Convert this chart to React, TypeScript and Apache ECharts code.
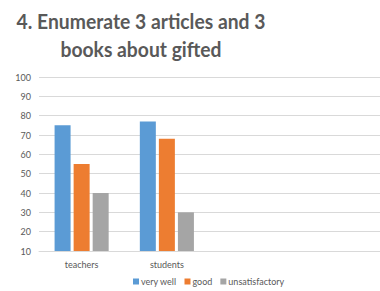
import React, { useEffect, useRef } from "react";
import * as echarts from "echarts";

const categories = ["teachers", "students", "", ""];
const veryWell = [75, 77, null, null];
const good = [55, 68, null, null];
const unsatisfactory = [40, 30, null, null];
const titleLines = ["4. Enumerate 3 articles and 3", "books about gifted"];

const FONT = "Lato, 'Open Sans', sans-serif";

export default function App() {
  const ref = useRef<HTMLDivElement>(null);
  useEffect(() => {
    if (!ref.current) return;
    document.body.style.margin = "0";
    const chart = echarts.init(ref.current, null, { renderer: "svg" });
    chart.setOption({
      animation: false,
      textStyle: { fontFamily: FONT },
      graphic: titleLines.map((t, i) => ({
        type: "text",
        x: 141,
        y: 21 + i * 28,
        scaleX: 0.92,
        style: {
          text: t,
          font: `bold 21px ${FONT}`,
          fill: "#595959",
          textAlign: "center",
          textVerticalAlign: "middle",
        },
      })),
      grid: { left: 39, right: -5, top: 77, bottom: 40 },
      legend: {
        bottom: 0,
        left: 128,
        itemWidth: 6,
        itemHeight: 6,
        itemGap: 8,
        icon: "rect",
        textStyle: { fontSize: 9, color: "#595959", padding: [0, 0, 0, -3] },
        data: ["very well", "good", "unsatisfactory"],
      },
      xAxis: {
        type: "category",
        data: categories,
        axisLine: { lineStyle: { color: "#D9D9D9" } },
        axisTick: { show: false },
        axisLabel: { fontSize: 9, color: "#595959", margin: 9 },
      },
      yAxis: {
        type: "value",
        min: 10,
        max: 100,
        interval: 10,
        axisLine: { show: false },
        axisTick: { show: false },
        axisLabel: { fontSize: 9, color: "#595959", margin: 8 },
        splitLine: { lineStyle: { color: "#D9D9D9" } },
      },
      series: [
        { name: "very well", type: "bar", data: veryWell, barWidth: 16, barGap: "19%", itemStyle: { color: "#5B9BD5" } },
        { name: "good", type: "bar", data: good, barWidth: 16, barGap: "19%", itemStyle: { color: "#ED7D31" } },
        { name: "unsatisfactory", type: "bar", data: unsatisfactory, barWidth: 16, barGap: "19%", itemStyle: { color: "#A5A5A5" } },
      ],
    });
    return () => chart.dispose();
  }, []);
  return <div ref={ref} style={{ width: 380, height: 291 }} />;
}
